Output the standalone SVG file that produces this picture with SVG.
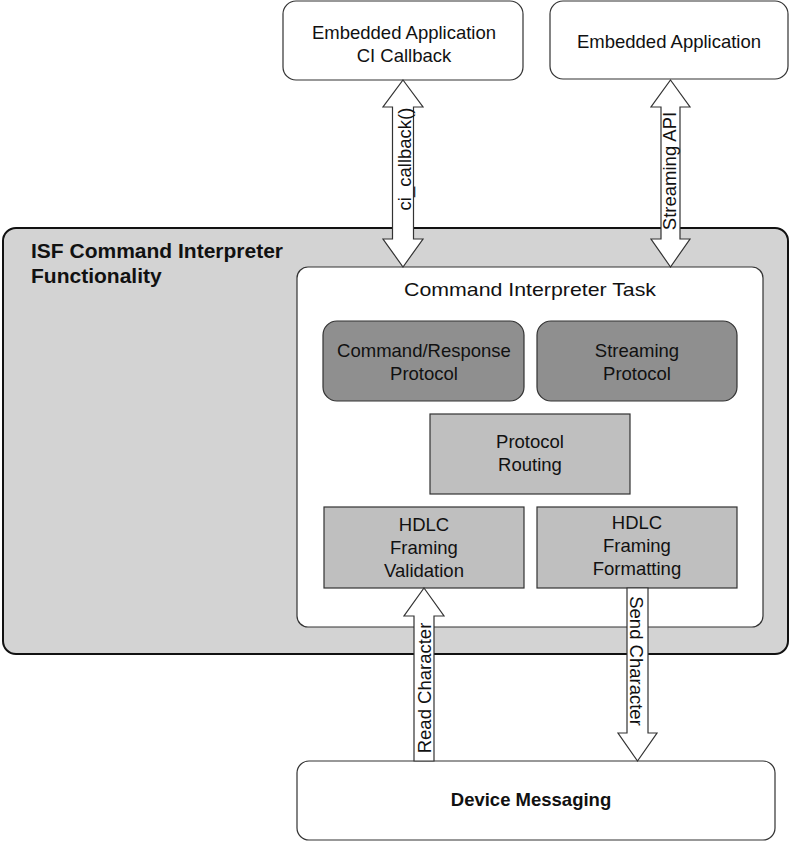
<svg xmlns="http://www.w3.org/2000/svg" width="790" height="841" viewBox="0 0 790 841">
<style>
text{font-family:"Liberation Sans",Arial,sans-serif;fill:#111}
.t{font-size:18.5px;text-anchor:middle}
.b{font-weight:bold}
.ext{fill:#fff;stroke:#333;stroke-width:1.2}
.dark{fill:#8f8f8f;stroke:#333;stroke-width:1.2}
.mid{fill:#bfbfbf;stroke:#333;stroke-width:1.2}
.arr{fill:#fff;stroke:#333;stroke-width:1.2;stroke-linejoin:miter}
</style>
<rect width="790" height="841" fill="#fff"/>
<g id="isf">
<rect x="3" y="228" width="785" height="426" rx="13" fill="#d3d3d3" stroke="#111" stroke-width="2"/>
<text class="b" x="31" y="258" font-size="21">ISF Command Interpreter</text>
<text class="b" x="31" y="283" font-size="21">Functionality</text>
</g>
<g id="ci-task">
<rect x="297" y="267" width="466" height="360" rx="11" fill="#fff" stroke="#333" stroke-width="1.2"/>
<text class="t" x="530" y="296" font-size="21" textLength="252" lengthAdjust="spacingAndGlyphs">Command Interpreter Task</text>
</g>
<g id="app-callback">
<rect class="ext" x="283" y="1" width="240" height="79" rx="13"/>
<text class="t" x="404" y="39">Embedded Application</text>
<text class="t" x="404" y="62">CI Callback</text>
</g>
<g id="app">
<rect class="ext" x="550" y="1" width="238" height="78" rx="13"/>
<text class="t" x="669" y="48">Embedded Application</text>
</g>
<g id="cmd-resp">
<rect class="dark" x="323" y="321" width="201" height="80" rx="14"/>
<text class="t" x="424" y="357">Command/Response</text>
<text class="t" x="424" y="380">Protocol</text>
</g>
<g id="streaming">
<rect class="dark" x="537" y="321" width="200" height="80" rx="14"/>
<text class="t" x="637" y="357">Streaming</text>
<text class="t" x="637" y="380">Protocol</text>
</g>
<g id="routing">
<rect class="mid" x="430" y="414" width="200" height="80"/>
<text class="t" x="530" y="448">Protocol</text>
<text class="t" x="530" y="471">Routing</text>
</g>
<g id="hdlc-val">
<rect class="mid" x="324" y="507" width="200" height="81"/>
<text class="t" x="424" y="531">HDLC</text>
<text class="t" x="424" y="554">Framing</text>
<text class="t" x="424" y="577">Validation</text>
</g>
<g id="hdlc-fmt">
<rect class="mid" x="537" y="507" width="200" height="81"/>
<text class="t" x="637" y="529">HDLC</text>
<text class="t" x="637" y="552">Framing</text>
<text class="t" x="637" y="575">Formatting</text>
</g>
<g id="device">
<rect class="ext" x="297" y="761" width="478" height="79" rx="12"/>
<text class="t b" x="531" y="806">Device Messaging</text>
</g>
<g id="connectors">
<polygon class="arr" points="403,80 423,107 413.5,107 413.5,239 423,239 403,267 383,239 392.5,239 392.5,107 383,107"/>
<text class="t" transform="translate(411,159) rotate(-90)">ci_callback()</text>
<polygon class="arr" points="670.5,80 690,107 680,107 680,239 690,239 670.5,267 651,239 661,239 661,107 651,107"/>
<text class="t" transform="translate(676,171) rotate(-90)">Streaming API</text>
<polygon class="arr" points="424,588 444,616 434,616 434,761 414,761 414,616 404,616"/>
<text class="t" transform="translate(431,688) rotate(-90)">Read Character</text>
<polygon class="arr" points="627,588 648,588 648,733 657,733 637.5,761 618,733 627,733"/>
<text class="t" transform="translate(630,661) rotate(90)">Send Character</text>
</g>
</svg>
